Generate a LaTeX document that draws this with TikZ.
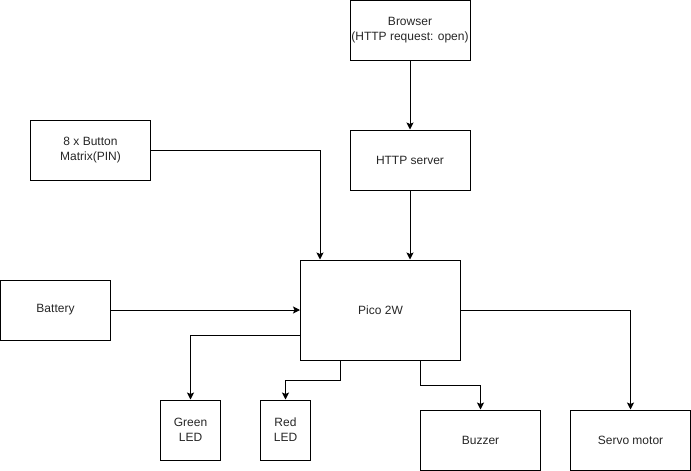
\documentclass[tikz,border=0pt]{standalone}
\usepackage{fontspec}
\setmainfont{Liberation Sans}
\usetikzlibrary{arrows.meta}
\begin{document}
\begin{tikzpicture}[x=1pt,y=-1pt,
  box/.style={draw=black, line width=1pt, rectangle, align=center, inner sep=0pt,
    font=\fontsize{12}{15}\selectfont, text=black!85},
  conn/.style={draw=black, line width=1pt, -{Stealth[length=7pt,width=7pt,inset=1.5pt]}}]
\useasboundingbox (0,0) rectangle (691,471);
\node[box, minimum width=120pt, minimum height=60pt] (browser) at (410,30) {Browser\\(HTTP request: open)};
\node[box, minimum width=120pt, minimum height=60pt] (http) at (410,160) {HTTP server};
\node[box, minimum width=120pt, minimum height=60pt] (btn) at (90.5,150) {8 x Button\\Matrix(PIN)};
\node[box, minimum width=110pt, minimum height=60pt] (battery) at (55.5,310) {Battery};
\node[box, minimum width=160pt, minimum height=100pt] (pico) at (380.5,310) {Pico 2W};
\node[box, minimum width=60pt, minimum height=60pt] (green) at (190.5,430) {Green\\LED};
\node[box, minimum width=50pt, minimum height=60pt] (red) at (285.5,430) {Red\\LED};
\node[box, minimum width=120pt, minimum height=60pt] (buzzer) at (480.5,440) {Buzzer};
\node[box, minimum width=120pt, minimum height=60pt] (servo) at (630.5,440) {Servo motor};
\draw[conn] (browser.south) -- (http.north);
\draw[conn] (http.south) -- (http.south |- pico.north);
\draw[conn] (btn.east) -| ([xshift=20pt]pico.north west);
\draw[conn] (battery.east) -- (pico.west);
\draw[conn] ([yshift=-25pt]pico.west) -| (green.north);
\draw[conn] ([xshift=40pt]pico.south west) -- ++(0,20) -| (red.north);
\draw[conn] ([xshift=120pt]pico.south west) -- ++(0,25) -| (buzzer.north);
\draw[conn] (pico.east) -| (servo.north);
\end{tikzpicture}
\end{document}
